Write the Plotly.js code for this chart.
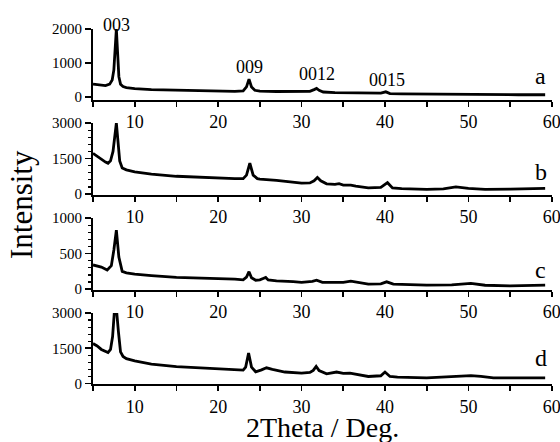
<!DOCTYPE html>
<html>
<head>
<meta charset="utf-8">
<script src="https://cdn.plot.ly/plotly-3.0.1.min.js"></script>
<style>html,body{margin:0;padding:0;background:#fff;}#chart{width:560px;height:442px;}</style>
</head>
<body>
<div id="chart"></div>
<script>
// ---- data ----
const xA = [5, 5.5, 6, 6.5, 7, 7.3, 7.5, 7.65, 7.8, 7.95, 8.1, 8.3, 8.6, 9, 10, 12, 15, 18, 20, 22, 23, 23.4, 23.7, 24.0, 24.4, 25, 27, 29, 30, 31, 31.5, 31.8, 32.1, 32.6, 34, 36, 38, 39.5, 40.1, 40.6, 42, 45, 48, 50, 53, 56, 59.2];
const yA = [380, 370, 345, 340, 380, 500, 800, 1500, 2000, 1300, 600, 380, 310, 280, 250, 220, 200, 185, 175, 170, 180, 300, 530, 300, 200, 175, 165, 160, 155, 170, 220, 255, 200, 150, 130, 120, 110, 115, 155, 105, 95, 85, 80, 78, 75, 70, 70];

const xB = [5, 5.5, 6, 6.5, 6.8, 7.1, 7.4, 7.6, 7.8, 8.0, 8.2, 8.5, 9, 10, 12, 15, 18, 20, 22, 23, 23.4, 23.8, 24.2, 24.7, 25, 27, 29, 30, 31, 31.5, 31.9, 32.3, 33, 34, 34.5, 35, 35.9, 36.5, 38, 39.5, 40.3, 40.9, 42, 45, 47, 48.5, 50, 52, 55, 59.2];
const yB = [1720, 1600, 1450, 1350, 1300, 1400, 1800, 2500, 3000, 2200, 1400, 1100, 1020, 940, 840, 750, 700, 660, 650, 650, 800, 1300, 800, 650, 630, 580, 500, 460, 470, 560, 700, 560, 430, 410, 440, 380, 380, 330, 260, 280, 480, 260, 230, 200, 220, 300, 240, 200, 210, 240];

const xC = [5, 6, 6.7, 7.2, 7.5, 7.8, 8.1, 8.5, 9, 10, 12, 15, 18, 20, 22, 23, 23.4, 23.7, 24, 24.5, 25, 25.4, 25.7, 26, 27, 29, 30, 31.3, 31.8, 32.5, 34, 35, 35.9, 37, 38, 39.5, 40.2, 41, 43, 45, 48, 50.3, 52, 55, 59.2];
const yC = [340, 310, 270, 330, 550, 830, 450, 250, 230, 210, 190, 165, 155, 150, 140, 130, 170, 245, 160, 125, 130, 150, 165, 130, 117, 105, 95, 110, 125, 95, 100, 95, 113, 85, 70, 75, 103, 70, 62, 56, 60, 80, 55, 46, 56];

const xD = [5, 5.5, 6, 6.5, 6.8, 7.1, 7.35, 7.55, 7.85, 8.05, 8.3, 8.6, 9, 10, 12, 15, 18, 20, 22, 23, 23.3, 23.65, 24.0, 24.5, 25.2, 25.8, 26.5, 28, 30, 31, 31.4, 31.75, 32.1, 33, 34.2, 35, 35.8, 37, 38, 39.5, 40.0, 40.6, 41.5, 45, 48, 50.3, 51.5, 53, 59.2];
const yD = [1700, 1600, 1450, 1350, 1315, 1450, 2000, 3000, 3000, 2200, 1350, 1150, 1060, 960, 830, 720, 660, 630, 600, 570, 700, 1300, 700, 500, 580, 670, 600, 490, 440, 470, 560, 730, 550, 410, 490, 430, 440, 350, 300, 330, 490, 300, 270, 240, 300, 340, 300, 240, 240];

const panelLabels = ['a', 'b', 'c', 'd'];
const peakLabels = ['003', '009', '0012', '0015'];
const peakPos = [7.8, 23.8, 31.9, 40.2];
const xTitle = '2Theta / Deg.';
const yTitle = 'Intensity';

// ---- layout ----
const H = 442;
const FONT = '"Liberation Serif", "Times New Roman", Times, serif';
const py = p => 1 - p / H;

const series = [[xA, yA], [xB, yB], [xC, yC], [xD, yD]];
const traces = series.map((s, i) => ({
  x: s[0], y: s[1], type: 'scatter', mode: 'lines',
  xaxis: i === 0 ? 'x' : 'x' + (i + 1),
  yaxis: i === 0 ? 'y' : 'y' + (i + 1),
  line: {color: '#000', width: 2.8, shape: 'linear'},
  hoverinfo: 'skip', showlegend: false
}));

// pixel positions of each panel (top, bottom)
const panels = [
  {top: 29, bot: 99.5, range: [-70, 2000], dtick: 1000, minor: null},
  {top: 123, bot: 194.5, range: [-20, 3000], dtick: 1500, minor: 300},
  {top: 218, bot: 289.5, range: [-5, 1000], dtick: 500, minor: 100},
  {top: 313, bot: 384, range: [-20, 3000], dtick: 1500, minor: 300}
];

const layout = {
  width: 560, height: 442,
  margin: {l: 93, r: 8, t: 0, b: 0},
  paper_bgcolor: '#fff', plot_bgcolor: '#fff',
  font: {family: FONT, color: '#000'},
  showlegend: false,
  annotations: []
};

panels.forEach((p, i) => {
  const sx = i === 0 ? '' : String(i + 1);
  layout['yaxis' + sx] = {
    domain: [py(p.bot), py(p.top)],
    range: p.range,
    anchor: 'x' + sx,
    tick0: 0, dtick: p.dtick,
    ticks: 'outside', ticklen: 6, tickwidth: 1.6, tickcolor: '#000',
    showline: true, linewidth: 2, linecolor: '#000',
    showgrid: false, zeroline: false,
    tickfont: {family: FONT, size: 15, color: '#000'},
    minor: p.minor ? {dtick: p.minor, tick0: 0, ticks: 'outside', ticklen: 3.5, tickwidth: 1.2, tickcolor: '#000', showgrid: false} : undefined
  };
  layout['xaxis' + sx] = {
    domain: [0, 1],
    range: [5, 60.02],
    anchor: 'y' + sx,
    tick0: 0, dtick: 10,
    ticks: 'outside', ticklen: 5, tickwidth: 1.6, tickcolor: '#000',
    showline: true, linewidth: 2, linecolor: '#000',
    showgrid: false, zeroline: false,
    ticklabeloverflow: 'allow',
    tickfont: {family: FONT, size: 18, color: '#000'},
    minor: {dtick: 5, tick0: 0, ticks: 'outside', ticklen: 5, tickwidth: 1.6, tickcolor: '#000', showgrid: false}
  };
});

// panel letters
const letterY = [76, 172, 270, 358];
panelLabels.forEach((t, i) => {
  layout.annotations.push({
    text: t, xref: 'x', yref: 'paper', x: 58.7, y: py(letterY[i]),
    showarrow: false, xanchor: 'center', yanchor: 'middle',
    font: {family: FONT, size: 24, color: '#000'}
  });
});
// peak labels
const peakY = [25, 67, 74, 80];
peakLabels.forEach((t, i) => {
  layout.annotations.push({
    text: t, xref: 'x', yref: 'paper', x: peakPos[i], y: py(peakY[i]),
    showarrow: false, xanchor: 'center', yanchor: 'middle',
    font: {family: FONT, size: 18, color: '#000'}
  });
});
// axis titles
layout.annotations.push({
  text: xTitle, xref: 'paper', yref: 'paper', x: 0.5, y: py(427),
  showarrow: false, xanchor: 'center', yanchor: 'middle',
  font: {family: FONT, size: 28, color: '#000'}
});
layout.annotations.push({
  text: yTitle, xref: 'paper', yref: 'paper', x: (21 - 93) / 459, y: py(205),
  showarrow: false, xanchor: 'center', yanchor: 'middle', textangle: -90,
  font: {family: FONT, size: 31, color: '#000'}
});

Plotly.newPlot('chart', traces, layout, {displayModeBar: false, staticPlot: true});
</script>
</body>
</html>
